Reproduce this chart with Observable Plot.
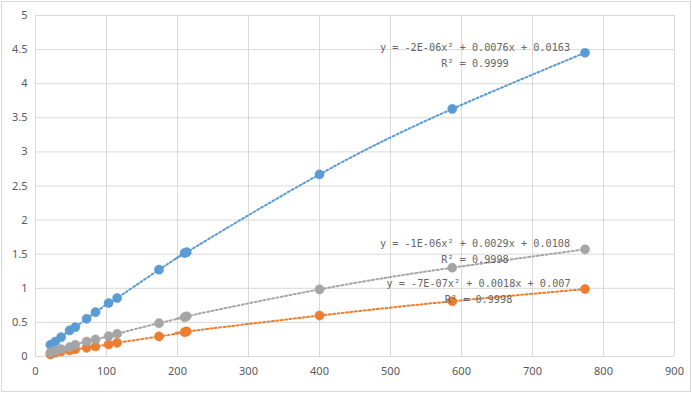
<!DOCTYPE html>
<html>
<head>
<meta charset="utf-8">
<script src="https://cdn.jsdelivr.net/npm/d3@7"></script>
<script src="https://cdn.jsdelivr.net/npm/@observablehq/plot@0.6"></script>
<style>
  html, body { margin: 0; padding: 0; background: #fff; }
  #chart svg { display: block; outline: 1px solid #d9d9d9; outline-offset: -2px; }
</style>
</head>
<body>
<div id="chart"></div>
<script>
// Shared x values
const xValues = [21, 28, 36, 48, 56, 72, 84.5, 103, 115, 174, 210, 213, 400, 587, 774];
// Series values
const blueValues   = [0.172, 0.22, 0.283, 0.382, 0.43, 0.553, 0.65, 0.783, 0.857, 1.273, 1.517, 1.53, 2.67, 3.63, 4.454];
const orangeValues = [0.03, 0.055, 0.073, 0.09, 0.105, 0.127, 0.147, 0.176, 0.2, 0.294, 0.357, 0.367, 0.60, 0.81, 0.988];
const greyValues   = [0.06, 0.085, 0.11, 0.137, 0.172, 0.22, 0.25, 0.298, 0.333, 0.489, 0.577, 0.59, 0.984, 1.302, 1.571];
const seriesNames  = ["blue", "orange", "grey"];
const seriesColors = ["#5b9bd5", "#ed7d31", "#a5a5a5"];
// Tick labels
const xTicks = [0, 100, 200, 300, 400, 500, 600, 700, 800, 900];
const yTicks = [0, 0.5, 1, 1.5, 2, 2.5, 3, 3.5, 4, 4.5, 5];
// Trendline labels
const labelX    = [619, 619, 624];
const labelY    = [4.436, 1.564, 0.976];
const labelText = [
  "y = -2E-06x² + 0.0076x + 0.0163\nR² = 0.9999",
  "y = -1E-06x² + 0.0029x + 0.0108\nR² = 0.9998",
  "y = -7E-07x² + 0.0018x + 0.007\nR² = 0.9998"
];

const valuesBySeries = [blueValues, orangeValues, greyValues];
const rows = [];
seriesNames.forEach((s, i) => {
  xValues.forEach((x, j) => rows.push({series: s, x, y: valuesBySeries[i][j]}));
});
const labels = labelText.map((t, i) => ({x: labelX[i], y: labelY[i], text: t}));

const lineMarks = [];
const dotMarks = [];
seriesNames.forEach((s, i) => {
  const d = rows.filter(r => r.series === s);
  lineMarks.push(Plot.line(d, {x: "x", y: "y", stroke: seriesColors[i], strokeWidth: 2,
    strokeDasharray: "2,2.4", curve: "natural"}));
  dotMarks.push(Plot.dot(d, {x: "x", y: "y", r: 4.6, fill: seriesColors[i], stroke: seriesColors[i], strokeWidth: 0.5}));
});

const chart = Plot.plot({
  width: 692,
  height: 393,
  marginLeft: 35,
  marginRight: 18,
  marginTop: 15,
  marginBottom: 37,
  style: {fontFamily: "'Noto Sans', sans-serif", fontSize: "11px", color: "#595959", background: "#fff"},
  x: {domain: [0, 900], ticks: xTicks, tickSize: 0, tickPadding: 11, label: null, tickFormat: d => String(d)},
  y: {domain: [0, 5], ticks: yTicks, tickSize: 0, tickPadding: 8, label: null, tickFormat: d => String(d)},
  marks: [
    Plot.gridX(xTicks, {stroke: "#d9d9d9", strokeOpacity: 1, strokeWidth: 1}),
    Plot.gridY(yTicks, {stroke: "#d9d9d9", strokeOpacity: 1, strokeWidth: 1}),
    Plot.axisX({ticks: xTicks, tickSize: 0, tickPadding: 11, tickFormat: d => String(d), label: null, fill: "#595959"}),
    Plot.axisY({ticks: yTicks, tickSize: 0, tickPadding: 8, tickFormat: d => String(d), label: null, fill: "#595959"}),
    ...lineMarks,
    ...dotMarks,
    Plot.text(labels, {x: "x", y: "y", text: "text", fontFamily: "'DejaVu Sans Mono', monospace",
      fontSize: 10.2, fill: "#666666", lineHeight: 1.57, textAnchor: "middle"})
  ]
});
document.getElementById("chart").appendChild(chart);
</script>
</body>
</html>
